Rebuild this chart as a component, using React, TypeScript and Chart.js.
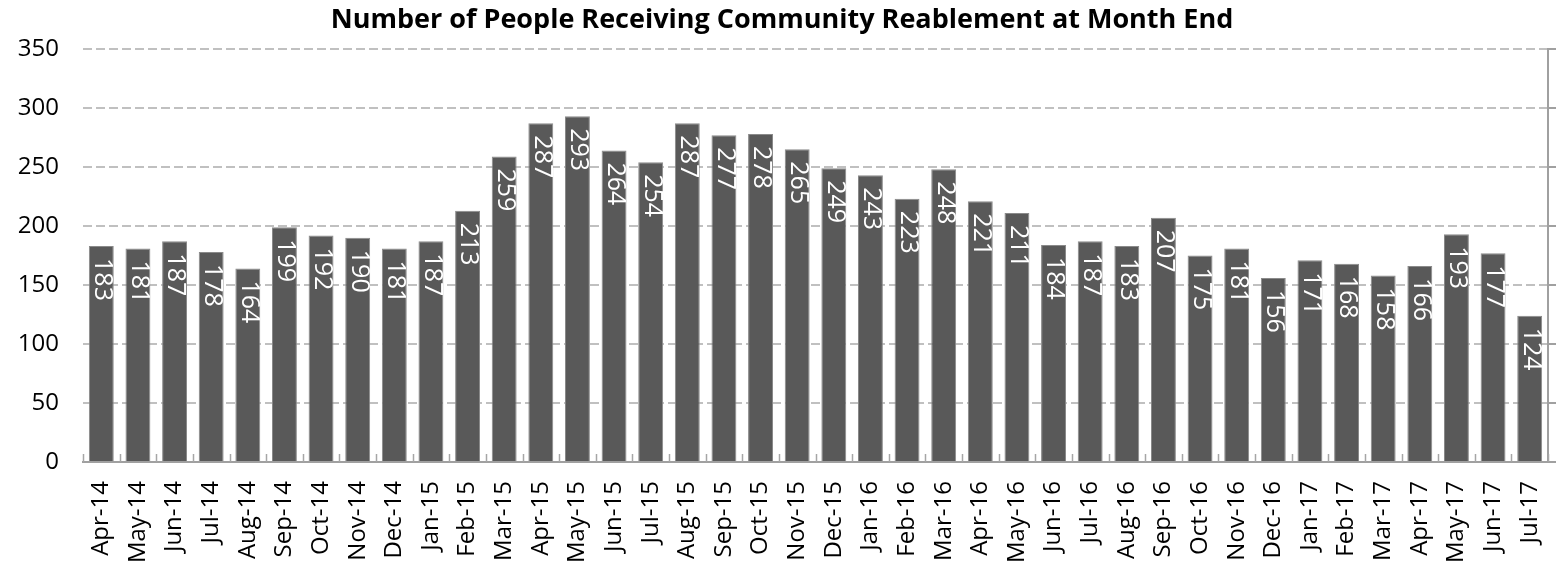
import React, { useEffect, useRef } from "react";
import { Chart, registerables } from "chart.js";

Chart.register(...registerables);

const TITLE = "Number of People Receiving Community Reablement at Month End";

const MONTHS = [
  "Apr-14", "May-14", "Jun-14", "Jul-14", "Aug-14", "Sep-14", "Oct-14", "Nov-14", "Dec-14",
  "Jan-15", "Feb-15", "Mar-15", "Apr-15", "May-15", "Jun-15", "Jul-15", "Aug-15", "Sep-15",
  "Oct-15", "Nov-15", "Dec-15", "Jan-16", "Feb-16", "Mar-16", "Apr-16", "May-16", "Jun-16",
  "Jul-16", "Aug-16", "Sep-16", "Oct-16", "Nov-16", "Dec-16", "Jan-17", "Feb-17", "Mar-17",
  "Apr-17", "May-17", "Jun-17", "Jul-17",
];

const PEOPLE = [
  183, 181, 187, 178, 164, 199, 192, 190, 181, 187, 213, 259, 287, 293, 264, 254, 287, 277,
  278, 265, 249, 243, 223, 248, 221, 211, 184, 187, 183, 207, 175, 181, 156, 171, 168, 158,
  166, 193, 177, 124,
];

const Y_MIN = 0;
const Y_MAX = 350;
const Y_STEP = 50;

const FONT = "'Open Sans', 'DejaVu Sans', sans-serif";

const barLabels = {
  id: "barLabels",
  afterDatasetsDraw(chart: any) {
    const ctx = chart.ctx;
    const meta = chart.getDatasetMeta(0);
    const data = chart.data.datasets[0].data;
    ctx.save();
    ctx.fillStyle = "#ffffff";
    ctx.font = `25px ${FONT}`;
    ctx.textAlign = "left";
    ctx.textBaseline = "middle";
    meta.data.forEach((bar: any, i: number) => {
      ctx.save();
      ctx.translate(bar.x + 1, bar.y + 12);
      ctx.rotate(Math.PI / 2);
      ctx.fillText(String(data[i]), 0, 0);
      ctx.restore();
    });
    ctx.restore();
  },
};

const innerTicks = {
  id: "innerTicks",
  afterDatasetsDraw(chart: any) {
    const ctx = chart.ctx;
    const x = chart.scales.x;
    const n = chart.data.labels.length;
    const step = (x.right - x.left) / n;
    ctx.save();
    ctx.strokeStyle = "#a6a6a6";
    ctx.lineWidth = 1.5;
    for (let i = 0; i <= n; i++) {
      const px = Math.round(x.left + i * step) + 0.5;
      ctx.beginPath();
      ctx.moveTo(px, x.top);
      ctx.lineTo(px, x.top - 8);
      ctx.stroke();
    }
    ctx.restore();
  },
};

export default function App() {
  const ref = useRef<HTMLCanvasElement | null>(null);

  useEffect(() => {
    if (!ref.current) return;
    const chart = new Chart(ref.current, {
      type: "bar",
      data: {
        labels: MONTHS,
        datasets: [
          {
            data: PEOPLE,
            backgroundColor: "#595959",
            borderColor: "#8a8a8a",
            borderWidth: 1,
            barPercentage: 0.68,
            categoryPercentage: 1,
            yAxisID: "y",
          },
        ],
      },
      options: {
        responsive: false,
        animation: false,
        layout: { padding: 0 },
        plugins: {
          legend: { display: false },
          tooltip: { enabled: false },
          title: {
            display: true,
            text: TITLE,
            color: "#000000",
            font: { family: FONT, size: 27, weight: "bold" },
            padding: { top: 4, bottom: 12.6 },
          },
        },
        scales: {
          x: {
            grid: { display: false, drawTicks: false },
            border: { display: true, color: "#a0a0a0", width: 2 },
            ticks: {
              autoSkip: false,
              maxRotation: 90,
              minRotation: 90,
              padding: 19,
              color: "#000000",
              font: { family: FONT, size: 24 },
            },
            afterFit(scale: any) {
              scale.height = 102;
              scale.paddingLeft = 0;
              scale.paddingRight = 0;
            },
          },
          y: {
            position: "left",
            min: Y_MIN,
            max: Y_MAX,
            ticks: {
              stepSize: Y_STEP,
              padding: 24,
              color: "#000000",
              font: { family: FONT, size: 24 },
            },
            grid: {
              color: "#c0c0c0",
              lineWidth: 2,
              drawTicks: false,
            },
            border: { display: false, dash: [9, 4] },
            afterFit(scale: any) {
              scale.width = 83;
            },
          },
          y2: {
            position: "right",
            min: Y_MIN,
            max: Y_MAX,
            ticks: {
              stepSize: Y_STEP,
              color: "rgba(0,0,0,0)",
              font: { family: FONT, size: 10 },
            },
            grid: {
              drawOnChartArea: false,
              drawTicks: true,
              tickLength: 8,
              color: "#a0a0a0",
              lineWidth: 2,
            },
            border: { display: true, color: "#a0a0a0", width: 2 },
            afterFit(scale: any) {
              scale.width = 16;
            },
          },
        },
      } as any,
      plugins: [innerTicks, barLabels],
    });
    return () => chart.destroy();
  }, []);

  return (
    <div style={{ position: "absolute", left: 0, top: 0, width: 1564, height: 564 }}>
      <canvas ref={ref} width={1564} height={564} style={{ width: 1564, height: 564 }} />
    </div>
  );
}
